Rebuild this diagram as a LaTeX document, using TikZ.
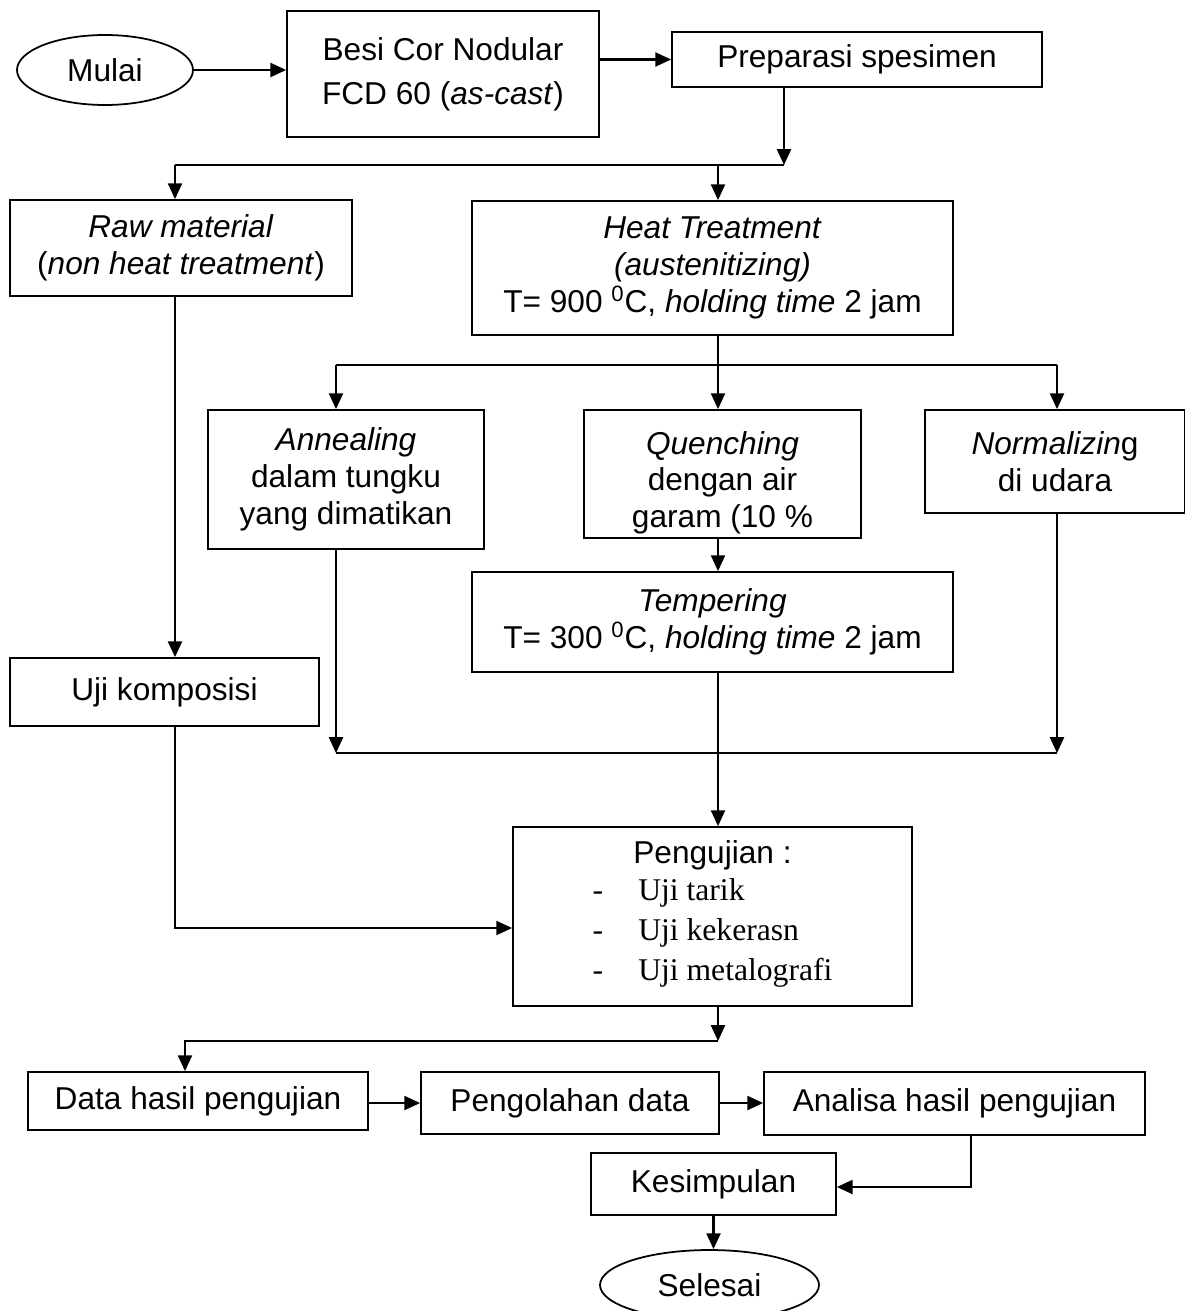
\documentclass[tikz,border=0pt]{standalone}
\usepackage{fontspec}
\setmainfont{Liberation Sans}
\newfontfamily\serifface{Liberation Serif}
\usetikzlibrary{arrows.meta, positioning, shapes.geometric}

\begin{document}
\begin{tikzpicture}[
   x=0.02cm, y=-0.02cm,
   font=\fontsize{18}{21}\selectfont,
   box/.style={draw, rectangle, line width=1pt, inner sep=0pt, align=center},
   oval/.style={draw, ellipse, line width=1pt, inner sep=0pt},
   boxsize/.style 2 args={minimum width=#1*0.02cm, minimum height=#2*0.02cm},
   link/.style={line width=1.2pt},
   flow/.style={link, -{Triangle[length=9pt, width=8pt]}}]
   \useasboundingbox (0,0) rectangle (1184,1311);

   % start and material
   \node[oval, boxsize={176}{70}] (mulai) at (105,70) {Mulai};
   \node[box, boxsize={312}{126}] (besi) at (443,74) {Besi Cor Nodular\\[4pt] FCD 60 (\textit{as-cast})};
   \node[box, boxsize={370}{55}] (prep) at (857,59.5) {Preparasi spesimen};

   % first split
   \node[box, boxsize={342}{96}] (raw) at (181,248) {\textit{Raw material}\\ (\textit{non heat treatment})};
   \node[box, boxsize={481}{134}] (heat) at (712.5,268) {\textit{Heat Treatment}\\ \textit{(austenitizing)}\\ T= 900 \textsuperscript{0}C, \textit{holding time} 2 jam};

   % heat treatment branches
   \node[box, boxsize={276}{139}] (anneal) at (346,479.5) {\textit{Annealing}\\ dalam tungku\\ yang dimatikan};
   \node[box, boxsize={277}{128}] (quench) at (722.5,474) {\rule{0pt}{23pt}\textit{Quenching}\\ dengan air\\ garam (10 \%};
   \node[box, boxsize={260}{103}] (normal) at (1055,461.5) {\textit{Normalizin}g\\ di udara};
   \node[box, boxsize={481}{100}] (temper) at (712.5,622) {\textit{Tempering}\\ T= 300 \textsuperscript{0}C, \textit{holding time} 2 jam};
   \node[box, boxsize={309}{68}] (komp) at (164.5,692) {Uji komposisi};

   % testing
   \node[box, boxsize={399}{179}] (uji) at (712.5,916.5) {Pengujian :\\
      {\serifface\fontsize{18}{22.8}\selectfont
      \begin{tabular}[t]{@{}l@{\hspace{20pt}}l@{}}
         - & Uji tarik\\
         - & Uji kekerasn\\
         - & Uji metalografi
      \end{tabular}}};

   % results
   \node[box, boxsize={340}{58}] (data) at (198,1101) {Data hasil pengujian};
   \node[box, boxsize={298}{62}] (olah) at (570,1103) {Pengolahan data};
   \node[box, boxsize={381}{63}] (analisa) at (954.5,1103.5) {Analisa hasil pengujian};
   \node[box, boxsize={245}{62}] (simpul) at (713.5,1184) {Kesimpulan};
   \node[oval, boxsize={219}{70}] (selesai) at (709.5,1285) {Selesai};

   % junctions
   \coordinate (j1) at (784,165);
   \coordinate (j1l) at (175,165);
   \coordinate (j1m) at (718,165);
   \coordinate (j2) at (718,365);
   \coordinate (j2l) at (336,365);
   \coordinate (j2r) at (1057,365);
   \coordinate (j3l) at (336,753);
   \coordinate (j3r) at (1057,753);
   \coordinate (j4) at (175,928);
   \coordinate (j5) at (718,1041);
   \coordinate (j5l) at (185,1041);
   \coordinate (j6) at (971,1187);

   \draw[flow] (mulai.east) -- (besi.west |- mulai.east);
   \draw[flow] (besi.east |- prep.west) -- (prep.west);
   \draw[flow] (prep.south -| j1) -- (j1);
   \draw[link] (j1) -- (j1l);
   \draw[flow] (j1l) -- (raw.north -| j1l);
   \draw[flow] (j1m) -- (heat.north -| j1m);

   \draw[link] (heat.south -| j2) -- (j2);
   \draw[link] (j2l) -- (j2r);
   \draw[flow] (j2l) -- (anneal.north -| j2l);
   \draw[flow] (j2) -- (quench.north -| j2);
   \draw[flow] (j2r) -- (normal.north -| j2r);
   \draw[flow] (quench.south -| j2) -- (temper.north -| j2);
   \draw[flow] (raw.south -| j1l) -- (komp.north -| j1l);

   \draw[flow] (anneal.south -| j3l) -- (j3l);
   \draw[flow] (normal.south -| j3r) -- (j3r);
   \draw[link] (j3l) -- (j3r);
   \draw[flow] (temper.south -| j2) -- (uji.north -| j2);
   \draw[flow] (komp.south -| j4) -- (j4) -- (uji.west |- j4);

   \draw[flow] (uji.south -| j5) -- (j5);
   \draw[flow] (j5) -- (j5l) -- (data.north -| j5l);
   \draw[flow] (data.east |- olah.west) -- (olah.west);
   \draw[flow] (olah.east) -- (analisa.west |- olah.east);
   \draw[flow] (analisa.south -| j6) -- (j6) -- (simpul.east |- j6);
   \draw[flow] (simpul.south) -- (simpul.south |- selesai.north);
\end{tikzpicture}
\end{document}
